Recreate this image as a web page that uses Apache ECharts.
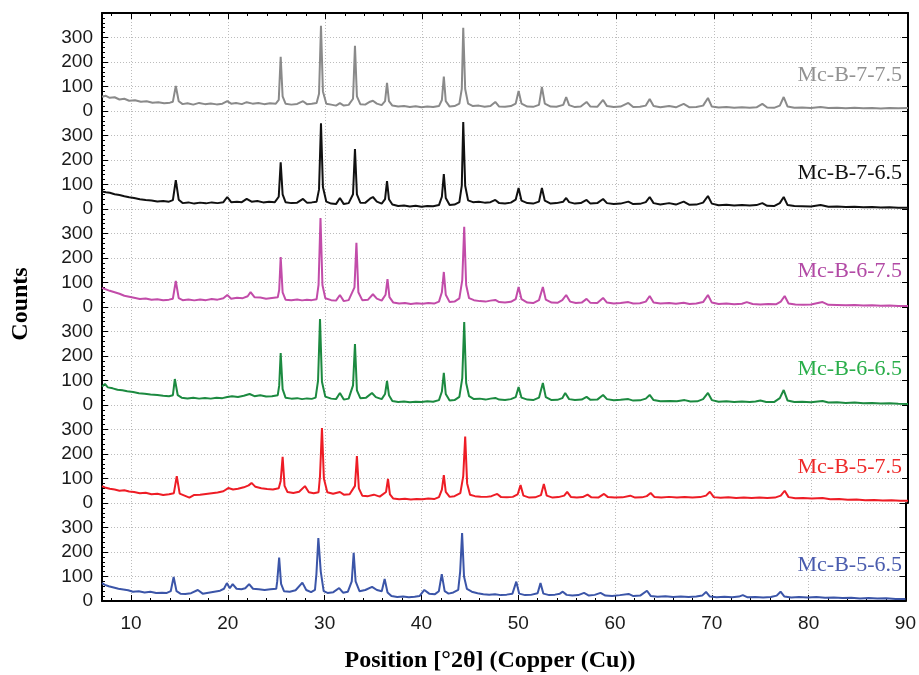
<!DOCTYPE html>
<html>
<head>
<meta charset="utf-8">
<script src="https://cdn.jsdelivr.net/npm/echarts@6/dist/echarts.min.js"></script>
<style>
  html, body { margin: 0; padding: 0; background: #fff; }
  #chart { width: 919px; height: 675px; }
</style>
</head>
<body>
<div id="chart"></div>
<script>
// sample names, top panel first
const sampleNames = ['Mc-B-7-7.5', 'Mc-B-7-6.5', 'Mc-B-6-7.5', 'Mc-B-6-6.5', 'Mc-B-5-7.5', 'Mc-B-5-6.5']
const lineColors = ['#8a8a8a', '#111111', '#c24ca9', '#1c8a40', '#ee1c25', '#3b55a8']
const labelColors = ['#929292', '#111111', '#b24aa5', '#2aae4a', '#ee2a2a', '#4a5cae']

// [2theta, counts]
const mcB775 = [[7,58],[7.4,62],[7.8,54],[8.3,56],[8.8,47],[9.3,50],[9.8,42],[10.4,44],[11,38],[11.6,40],[12.2,34],[12.8,36],[13.4,32],[14,34],[14.3,38],[14.6,102],[14.9,40],[15.3,28],[15.8,32],[16.4,26],[17,33],[17.6,28],[18.2,31],[18.8,27],[19.4,30],[19.9,40],[20.3,30],[20.8,33],[21.4,28],[21.9,36],[22.5,30],[23.1,33],[23.7,28],[24.3,32],[24.9,30],[25.2,45],[25.4,221],[25.6,60],[25.9,30],[26.5,26],[27.1,29],[27.7,40],[28.1,28],[28.6,30],[29.1,33],[29.35,70],[29.55,348],[29.75,80],[30.1,30],[30.6,26],[31.1,22],[31.5,32],[31.9,22],[32.4,25],[32.85,50],[33.05,266],[33.25,60],[33.6,28],[34.1,26],[34.6,38],[34.9,42],[35.3,30],[35.8,24],[36.15,40],[36.35,115],[36.55,40],[36.9,22],[37.5,18],[38.1,20],[38.7,16],[39.3,19],[39.9,15],[40.5,18],[41.1,16],[41.7,20],[42,45],[42.2,140],[42.4,40],[42.8,18],[43.3,20],[43.8,30],[44.05,90],[44.2,340],[44.4,90],[44.7,30],[45.2,20],[45.8,22],[46.4,17],[47,20],[47.5,37],[47.9,18],[48.5,17],[49.1,20],[49.6,30],[49.9,82],[50.2,30],[50.8,18],[51.4,17],[52,25],[52.3,98],[52.6,30],[53.2,18],[53.8,17],[54.5,25],[54.8,57],[55.1,24],[55.7,16],[56.3,18],[56.9,37],[57.3,18],[58,17],[58.6,45],[59,20],[59.7,16],[60.4,18],[61.2,33],[61.7,16],[62.4,17],[63,22],[63.4,49],[63.8,20],[64.5,15],[65.4,20],[66.1,15],[66.9,29],[67.5,15],[68.2,16],[68.9,22],[69.4,53],[69.8,18],[70.5,14],[71.3,16],[72.1,13],[72.9,15],[73.7,13],[74.4,15],[75,29],[75.5,14],[76.2,13],[76.8,22],[77.2,57],[77.6,18],[78.3,13],[79.1,14],[80,12],[81,16],[81.8,12],[82.7,13],[83.6,11],[84.5,13],[85.4,11],[86.3,12],[87.2,10],[88.1,12],[89,11],[90,12]]
const mcB765 = [[7,71],[7.4,68],[7.8,66],[8.3,60],[8.8,57],[9.3,52],[9.8,48],[10.3,45],[10.9,40],[11.5,37],[12.1,35],[12.7,31],[13.3,33],[13.9,30],[14.3,36],[14.6,118],[14.9,38],[15.3,24],[15.9,27],[16.5,22],[17.1,26],[17.7,23],[18.3,27],[18.9,24],[19.5,28],[19.9,49],[20.3,28],[20.9,30],[21.4,28],[21.9,41],[22.4,30],[23,33],[23.6,27],[24.2,30],[24.8,28],[25.2,50],[25.4,191],[25.6,60],[25.9,28],[26.5,24],[27.1,26],[27.7,41],[28.1,26],[28.6,27],[29.1,30],[29.35,80],[29.55,350],[29.75,90],[30.1,30],[30.6,22],[31.1,20],[31.5,45],[31.9,20],[32.4,24],[32.85,60],[33.05,245],[33.25,60],[33.6,26],[34.1,25],[34.6,42],[34.9,49],[35.3,30],[35.8,22],[36.15,40],[36.35,114],[36.55,40],[36.9,18],[37.5,12],[38.1,14],[38.7,10],[39.3,13],[39.9,9],[40.5,12],[41.1,11],[41.7,16],[42,50],[42.2,143],[42.4,45],[42.8,16],[43.3,18],[43.8,28],[44.05,95],[44.2,355],[44.4,95],[44.7,35],[45.2,28],[45.8,30],[46.4,26],[47,28],[47.5,37],[47.9,24],[48.5,22],[49.1,26],[49.6,38],[49.9,86],[50.2,34],[50.8,24],[51.4,22],[52,30],[52.3,86],[52.6,34],[53.2,22],[53.8,24],[54.5,30],[54.8,45],[55.1,28],[55.7,22],[56.3,24],[56.9,37],[57.3,22],[58,24],[58.6,41],[59,24],[59.7,20],[60.4,22],[61.2,30],[61.7,20],[62.4,21],[63,28],[63.4,49],[63.8,24],[64.5,18],[65.4,24],[66.1,18],[66.9,30],[67.5,17],[68.2,18],[68.9,26],[69.4,53],[69.8,22],[70.5,15],[71.3,17],[72.1,14],[72.9,16],[73.7,14],[74.4,16],[75,24],[75.5,13],[76.2,12],[76.8,24],[77.2,49],[77.6,16],[78.3,12],[79.1,11],[80,10],[81,16],[81.8,9],[82.7,10],[83.6,8],[84.5,9],[85.4,7],[86.3,8],[87.2,6],[88.1,7],[89,5],[90,5]]
const mcB675 = [[7,78],[7.4,72],[7.8,66],[8.3,60],[8.8,54],[9.3,46],[9.8,42],[10.3,38],[10.9,33],[11.5,35],[12.1,30],[12.7,32],[13.3,28],[13.9,30],[14.3,34],[14.6,106],[14.9,36],[15.3,28],[15.9,31],[16.5,27],[17.1,31],[17.7,28],[18.3,33],[18.9,30],[19.5,36],[19.9,49],[20.3,34],[20.9,38],[21.5,36],[22,44],[22.3,61],[22.7,40],[23.3,39],[23.9,34],[24.5,37],[25.1,40],[25.25,70],[25.4,204],[25.6,60],[25.9,30],[26.5,28],[27.1,31],[27.6,27],[28.1,30],[28.6,28],[29.1,32],[29.3,90],[29.5,363],[29.7,90],[30,36],[30.6,28],[31.1,26],[31.5,49],[31.9,24],[32.4,28],[33,80],[33.2,262],[33.4,60],[33.8,28],[34.4,30],[34.9,52],[35.3,34],[35.8,26],[36.2,50],[36.4,114],[36.6,40],[37,18],[37.6,14],[38.2,16],[38.8,12],[39.4,15],[40,13],[40.6,16],[41.2,14],[41.7,22],[42,60],[42.2,143],[42.4,50],[42.8,20],[43.3,22],[43.8,35],[44.1,110],[44.3,327],[44.5,90],[44.8,36],[45.3,28],[45.9,24],[46.5,22],[47,26],[47.5,29],[47.9,20],[48.5,18],[49.1,21],[49.6,32],[49.9,82],[50.2,32],[50.8,18],[51.4,16],[52,28],[52.4,82],[52.7,30],[53.3,18],[53.9,17],[54.4,28],[54.8,49],[55.2,22],[55.8,16],[56.4,18],[56.9,33],[57.3,17],[58,16],[58.6,37],[59,18],[59.7,14],[60.4,16],[61.2,20],[61.7,14],[62.4,15],[63,22],[63.4,45],[63.8,18],[64.5,14],[65.4,16],[66.1,13],[66.9,17],[67.5,12],[68.2,14],[68.9,20],[69.4,49],[69.8,18],[70.5,12],[71.3,14],[72.1,11],[72.9,13],[73.4,20],[74,12],[74.8,10],[75.6,12],[76.4,11],[76.9,22],[77.3,45],[77.7,14],[78.4,10],[79.2,9],[80,10],[81.2,20],[81.8,9],[82.7,8],[83.6,7],[84.5,8],[85.4,6],[86.3,7],[87.2,5],[88.1,6],[89,4],[90,4]]
const mcB665 = [[7,75],[7.3,86],[7.6,72],[8.1,68],[8.6,62],[9.1,60],[9.6,56],[10.2,53],[10.8,48],[11.4,46],[12,43],[12.7,41],[13.3,38],[13.9,36],[14.3,40],[14.5,106],[14.8,40],[15.2,30],[15.8,27],[16.4,30],[17,26],[17.6,29],[18.2,26],[18.8,30],[19.4,28],[19.9,33],[20.4,36],[21,33],[21.6,38],[22.2,45],[22.7,36],[23.3,40],[23.9,35],[24.5,36],[25.1,40],[25.25,80],[25.4,212],[25.6,65],[25.9,30],[26.5,26],[27.1,28],[27.6,24],[28.1,27],[28.6,25],[29,30],[29.25,100],[29.45,351],[29.65,95],[30,34],[30.6,26],[31.1,24],[31.5,49],[31.9,22],[32.4,26],[32.85,80],[33.05,249],[33.25,60],[33.6,28],[34.2,30],[34.8,49],[35.2,32],[35.8,24],[36.15,45],[36.35,98],[36.55,40],[36.9,16],[37.5,12],[38.1,14],[38.7,11],[39.3,13],[39.9,12],[40.5,15],[41.1,13],[41.7,20],[42,55],[42.2,131],[42.4,45],[42.8,18],[43.3,20],[43.8,33],[44.1,110],[44.3,339],[44.5,90],[44.8,36],[45.3,24],[45.9,26],[46.5,22],[47,26],[47.5,29],[47.9,22],[48.5,20],[49.1,24],[49.6,32],[49.9,73],[50.2,30],[50.8,22],[51.4,20],[52,30],[52.4,90],[52.7,32],[53.3,20],[53.9,21],[54.4,28],[54.7,49],[55.1,24],[55.7,20],[56.4,22],[56.9,33],[57.3,21],[58,22],[58.6,41],[59,24],[59.7,19],[60.4,21],[61.2,24],[61.7,18],[62.4,19],[63,26],[63.4,41],[63.8,20],[64.5,15],[65.5,16],[66.2,15],[67,20],[67.6,14],[68.3,15],[68.9,24],[69.4,49],[69.8,20],[70.5,13],[71.3,15],[72.1,12],[72.9,14],[73.7,12],[74.3,14],[74.8,18],[75.4,12],[76.2,12],[76.8,28],[77.2,61],[77.6,18],[78.3,12],[79.1,13],[80,11],[81.2,16],[81.8,10],[82.7,11],[83.6,8],[84.5,10],[85.4,7],[86.3,8],[87.2,6],[88.1,7],[89,5],[90,4]]
const mcB575 = [[7,69],[7.4,62],[7.8,58],[8.3,55],[8.8,50],[9.3,52],[9.8,47],[10.3,45],[10.9,40],[11.5,42],[12.1,36],[12.7,38],[13.3,33],[13.9,36],[14.4,40],[14.7,110],[15,38],[15.5,30],[16,22],[16.5,33],[17.1,34],[17.7,37],[18.3,40],[18.9,43],[19.5,48],[20,61],[20.5,55],[21,58],[21.6,64],[22.1,72],[22.4,82],[22.8,66],[23.4,60],[24,57],[24.6,55],[25.2,60],[25.4,90],[25.6,188],[25.8,70],[26.1,45],[26.7,41],[27.3,46],[27.9,69],[28.3,44],[28.8,40],[29.3,44],[29.45,110],[29.65,306],[29.85,100],[30.2,44],[30.8,38],[31.5,45],[31.9,34],[32.5,36],[33.05,70],[33.25,192],[33.45,60],[33.8,30],[34.4,28],[35,34],[35.6,26],[36.25,45],[36.45,98],[36.65,35],[37,18],[37.6,15],[38.2,17],[38.8,14],[39.4,16],[40,15],[40.6,18],[41.2,16],[41.7,24],[42,55],[42.2,114],[42.4,45],[42.8,25],[43.3,28],[43.9,40],[44.2,110],[44.4,271],[44.6,80],[44.9,34],[45.4,28],[46,26],[46.6,25],[47.1,28],[47.7,37],[48.1,24],[48.7,23],[49.3,25],[49.8,35],[50.1,73],[50.4,30],[51,22],[51.6,23],[52.2,32],[52.5,78],[52.8,30],[53.4,22],[54,24],[54.6,30],[54.9,45],[55.3,24],[55.9,22],[56.5,24],[57,34],[57.4,23],[58.1,22],[58.7,37],[59.1,24],[59.8,22],[60.6,23],[61.4,30],[61.9,22],[62.6,23],[63.1,28],[63.5,41],[63.9,24],[64.6,22],[65.4,25],[66.2,22],[67,24],[67.8,22],[68.6,24],[69.2,30],[69.6,46],[70,24],[70.7,21],[71.5,23],[72.3,20],[73.1,22],[73.9,20],[74.7,22],[75.5,20],[76.3,22],[76.9,30],[77.3,50],[77.7,24],[78.4,19],[79.2,20],[80.1,18],[81.2,20],[82,15],[82.9,16],[83.8,13],[84.7,14],[85.6,11],[86.5,12],[87.4,10],[88.3,11],[89.2,9],[90,9]]
const mcB565 = [[7,73],[7.3,66],[7.7,60],[8.2,55],[8.7,50],[9.2,47],[9.7,44],[10.2,38],[10.8,40],[11.4,35],[12,38],[12.6,33],[13.2,34],[13.7,33],[14.1,40],[14.4,98],[14.7,40],[15.1,30],[15.6,29],[16.2,32],[16.9,45],[17.4,30],[18,34],[18.6,38],[19.2,42],[19.6,50],[19.9,73],[20.2,52],[20.5,69],[20.9,50],[21.4,48],[21.8,52],[22.2,69],[22.6,50],[23.2,48],[23.8,45],[24.4,48],[25,50],[25.1,80],[25.3,177],[25.5,70],[25.8,40],[26.4,38],[27,44],[27.7,75],[28.1,45],[28.6,36],[29,45],[29.15,110],[29.35,257],[29.6,120],[29.9,40],[30.3,33],[30.9,36],[31.5,53],[31.9,34],[32.4,38],[32.8,80],[33,197],[33.2,80],[33.6,40],[34.2,45],[34.9,58],[35.4,45],[35.9,40],[36.2,90],[36.5,35],[36.9,20],[37.5,16],[38.1,18],[38.7,15],[39.3,17],[39.8,20],[40.3,45],[40.8,30],[41.4,28],[41.8,40],[42.1,110],[42.4,40],[42.8,30],[43.3,35],[43.8,45],[44,120],[44.2,277],[44.4,100],[44.7,49],[45.2,38],[45.8,32],[46.4,28],[47,26],[47.6,28],[48.2,24],[48.8,26],[49.4,30],[49.8,79],[50.1,30],[50.7,24],[51.3,25],[52,32],[52.3,73],[52.6,30],[53.2,24],[53.8,26],[54.3,30],[54.6,38],[55,25],[55.6,22],[56.2,24],[56.8,33],[57.3,22],[57.9,25],[58.5,33],[59,22],[59.7,20],[60.5,24],[61.4,29],[61.9,20],[62.6,22],[63.3,42],[63.7,20],[64.4,17],[65.2,19],[66,16],[66.8,18],[67.6,16],[68.4,18],[69,22],[69.4,37],[69.8,18],[70.5,15],[71.3,17],[72.1,15],[72.8,18],[73.2,24],[73.7,15],[74.5,16],[75.3,14],[76.1,16],[76.7,22],[77.1,38],[77.5,18],[78.2,14],[79,16],[79.9,14],[80.8,16],[81.7,13],[82.6,14],[83.5,12],[84.4,13],[85.3,10],[86.2,12],[87.1,10],[88,11],[89,8],[90,8]]

const seriesData = [mcB775, mcB765, mcB675, mcB665, mcB575, mcB565]

const xMin = 7
const xMax = 90
const yMax = 400

const chart = echarts.init(document.getElementById('chart'))

const plotLeft = 102
const plotRight = 11
const plotTop = 13
const panelH = 98
const n = sampleNames.length

const sansFont = 'Liberation Sans, Arial, sans-serif'
const serifFont = 'Liberation Serif, Times New Roman, serif'
const dotted = { show: true, lineStyle: { type: [1, 2], color: '#bcbcbc', width: 1 } }

const grids = []
const xAxes = []
const yAxes = []
const series = []
const titles = []

for (let i = 0; i < n; i++) {
  const isLast = i === n - 1
  grids.push({ left: plotLeft, right: plotRight, top: plotTop + panelH * i, height: panelH })
  xAxes.push({
    type: 'value', gridIndex: i, min: xMin, max: xMax, splitNumber: 9,
    axisLine: { show: isLast, onZero: false, lineStyle: { color: '#000', width: 2 } },
    axisTick: { show: isLast, inside: true, length: 6, lineStyle: { color: '#000' } },
    minorTick: { show: isLast, splitNumber: 5, length: 3, lineStyle: { color: '#000' } },
    axisLabel: { show: isLast, showMinLabel: false, margin: 13, fontSize: 19, color: '#1a1a1a', fontFamily: sansFont },
    splitLine: dotted
  })
  yAxes.push({
    type: 'value', gridIndex: i, min: 0, max: yMax, interval: 100, position: 'left',
    axisLine: { show: true, lineStyle: { color: '#000', width: 2 } },
    axisTick: { show: true, inside: true, length: 6, lineStyle: { color: '#000' } },
    minorTick: { show: true, splitNumber: 5, length: 3, lineStyle: { color: '#000' } },
    axisLabel: { showMaxLabel: false, margin: 9, fontSize: 19, color: '#1a1a1a', fontFamily: sansFont },
    splitLine: dotted
  })
  yAxes.push({
    type: 'value', gridIndex: i, min: 0, max: yMax, interval: 100, position: 'right',
    axisLine: { show: true, lineStyle: { color: '#000', width: 2 } },
    axisTick: { show: true, inside: true, length: 6, lineStyle: { color: '#000' } },
    axisLabel: { show: false },
    splitLine: { show: false }
  })
  series.push({
    name: sampleNames[i], type: 'line', xAxisIndex: i, yAxisIndex: 2 * i,
    data: seriesData[i], showSymbol: false, silent: true,
    lineStyle: { color: lineColors[i], width: 2 }
  })
  titles.push({
    text: sampleNames[i], right: 17, top: plotTop + panelH * i + 51, padding: 0,
    textStyle: { fontFamily: serifFont, fontWeight: 'normal', fontSize: 22, color: labelColors[i] }
  })
}

// top frame line
xAxes.push({
  type: 'value', gridIndex: 0, min: xMin, max: xMax, splitNumber: 9, position: 'top',
  axisLine: { show: true, onZero: false, lineStyle: { color: '#000', width: 2 } },
  axisTick: { show: true, inside: true, length: 6, lineStyle: { color: '#000' } },
  minorTick: { show: true, splitNumber: 5, length: 3, lineStyle: { color: '#000' } },
  axisLabel: { show: false },
  splitLine: { show: false }
})

chart.setOption({
  animation: false,
  backgroundColor: '#fff',
  title: titles,
  grid: grids,
  xAxis: xAxes,
  yAxis: yAxes,
  series: series,
  graphic: [
    {
      type: 'text', x: 21, y: 304, rotation: Math.PI / 2,
      style: { text: 'Counts', fontFamily: serifFont, fontWeight: 'bold', fontSize: 24, fill: '#000', align: 'center', verticalAlign: 'middle' }
    },
    {
      type: 'text', x: 490, y: 661,
      style: { text: 'Position [°2θ] (Copper (Cu))', fontFamily: serifFont, fontWeight: 'bold', fontSize: 24, fill: '#000', align: 'center', verticalAlign: 'middle' }
    }
  ]
})
</script>
</body>
</html>
